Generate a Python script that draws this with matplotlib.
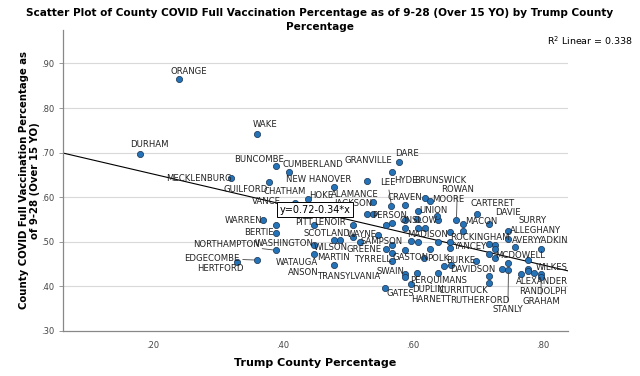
import matplotlib
matplotlib.use("Agg")
import matplotlib.pyplot as plt

# ---------------------------------------------------
# Data
# ---------------------------------------------------
county = ["ORANGE", "DURHAM", "WAKE", "MECKLENBURG", "BUNCOMBE", "CUMBERLAND",
          "GUILFORD", "NEW HANOVER", "GRANVILLE", "HYDE", "DARE", "HOKE",
          "CHATHAM", "VANCE", "ALAMANCE", "LEE", "CRAVEN", "BRUNSWICK", "MOORE",
          "UNION", "JACKSON", "PERSON", "", "", "ONSLOW", "", "", "", "LENOIR",
          "", "MADISON", "", "SAMPSON", "WAYNE", "SCOTLAND", "", "GREENE",
          "", "", "", "", "", "", "GASTON", "", "POLK", "", "TYRRELL", "SWAIN",
          "HARNETT", "PERQUIMANS", "", "", "DUPLIN", "GATES", "ROWAN", "MACON",
          "CARTERET", "DAVIE", "", "ROCKINGHAM", "YANCEY", "", "", "",
          "ALLEGHANY", "AVERY", "", "YADKIN", "", "MCDOWELL", "", "", "BURKE",
          "DAVIDSON", "", "STANLY", "ALEXANDER", "", "RANDOLPH", "", "WILKES",
          "GRAHAM", "CURRITUCK", "RUTHERFORD", "WARREN", "", "BERTIE", "PITT",
          "NORTHAMPTON", "WILSON", "MARTIN", "EDGECOMBE", "HERTFORD", "WATAUGA"]

trump_pct = [0.240, 0.180, 0.360, 0.320, 0.390, 0.409,
             0.379, 0.479, 0.529, 0.568, 0.579, 0.439,
             0.418, 0.402, 0.539, 0.567, 0.588, 0.619, 0.627,
             0.608, 0.529, 0.538, 0.568, 0.558, 0.588, 0.607, 0.639, 0.637, 0.508,
             0.588, 0.608, 0.619, 0.547, 0.508, 0.479, 0.488, 0.519,
             0.597, 0.608, 0.639, 0.657, 0.558, 0.568, 0.568, 0.588, 0.617, 0.627, 0.568, 0.588,
             0.588, 0.607, 0.638, 0.648, 0.597, 0.557, 0.667, 0.677,
             0.698, 0.717, 0.677, 0.657, 0.657, 0.717, 0.727, 0.727,
             0.747, 0.747, 0.757, 0.797, 0.717, 0.726, 0.747, 0.777, 0.697,
             0.658, 0.737, 0.747, 0.767, 0.777, 0.777, 0.787, 0.797,
             0.797, 0.717, 0.717, 0.369, 0.389, 0.389, 0.448,
             0.389, 0.448, 0.448, 0.360, 0.329, 0.479]

vacc_pct = [0.865, 0.698, 0.742, 0.642, 0.669, 0.656,
            0.634, 0.624, 0.637, 0.657, 0.680, 0.596,
            0.587, 0.579, 0.589, 0.581, 0.583, 0.598, 0.592,
            0.569, 0.563, 0.563, 0.543, 0.537, 0.548, 0.552, 0.550, 0.557, 0.537,
            0.530, 0.531, 0.531, 0.516, 0.510, 0.503, 0.504, 0.499,
            0.501, 0.499, 0.500, 0.522, 0.484, 0.492, 0.475, 0.481, 0.464, 0.484, 0.457, 0.427,
            0.420, 0.431, 0.431, 0.445, 0.405, 0.397, 0.550, 0.541,
            0.563, 0.541, 0.525, 0.500, 0.487, 0.494, 0.492, 0.484,
            0.524, 0.507, 0.489, 0.483, 0.472, 0.464, 0.453, 0.460, 0.457,
            0.447, 0.440, 0.437, 0.428, 0.440, 0.434, 0.431, 0.427,
            0.422, 0.423, 0.407, 0.548, 0.537, 0.519, 0.537,
            0.481, 0.492, 0.472, 0.459, 0.454, 0.447]

intercept = 0.72
slope = -0.34
r_squared = 0.338

y_ticks = [0.30, 0.40, 0.50, 0.60, 0.70, 0.80, 0.90]
x_ticks = [0.20, 0.40, 0.60, 0.80]

# label placement: offset in pixels from the county's own point
label_offsets = {
    "ORANGE": (9.5, 8), "DURHAM": (9.5, 9), "WAKE": (8.3, 9.3),
    "MECKLENBURG": (-32, -0.3), "BUNCOMBE": (-17, 6.7), "CUMBERLAND": (24, 7.5),
    "GUILFORD": (-24, -7), "NEW HANOVER": (-16, 6.7), "GRANVILLE": (2, 20),
    "HYDE": (14, -8.7), "DARE": (8, 8.4), "HOKE": (13.2, 3.8),
    "CHATHAM": (-9.5, 11.8), "VANCE": (-17.5, 5.3), "ALAMANCE": (-18.8, 7.7),
    "LEE": (-3.7, 23), "CRAVEN": (0, 7.5), "BRUNSWICK": (15, 17.3),
    "MOORE": (17.3, 1), "UNION": (15.2, 0.7), "JACKSON": (-13.7, 10),
    "PERSON": (17.3, -1.7), "ONSLOW": (13, 0), "LENOIR": (-22.8, 2.7),
    "MADISON": (9.2, -6.7), "SAMPSON": (3.4, -7.3), "WAYNE": (8.4, 2.7),
    "SCOTLAND": (-7.3, 6.7), "GREENE": (3.5, -7.3), "GASTON": (18.7, -5),
    "POLK": (14.7, -1), "TYRRELL": (-19.3, 1.7), "SWAIN": (-14.5, 3.3),
    "HARNETT": (26.5, -21.7), "PERQUIMANS": (21.3, -7.7), "DUPLIN": (16.5, -5.7),
    "GATES": (15, -5.7), "ROWAN": (0.8, 30), "MACON": (18.7, 2.3),
    "CARTERET": (16.3, 10), "DAVIE": (19, 10.7), "ROCKINGHAM": (30, 4.3),
    "YANCEY": (20, 1), "ALLEGHANY": (26.7, 1), "AVERY": (16.7, -1.4),
    "YADKIN": (10.5, 9.3), "MCDOWELL": (25, 2.3), "BURKE": (-15, 0.7),
    "DAVIDSON": (22.3, -4), "STANLY": (-0.6, -39.3), "ALEXANDER": (20.3, -8),
    "RANDOLPH": (15, -20.6), "WILKES": (10.7, 7.3), "GRAHAM": (0.3, -25),
    "CURRITUCK": (-25.3, -14), "RUTHERFORD": (-8.8, -17), "WARREN": (-19.7, 0),
    "BERTIE": (-17.2, 0.7), "PITT": (-10.3, 2.7), "NORTHAMPTON": (-49.7, 6),
    "WILSON": (16.2, -2.3), "MARTIN": (19, -3.3), "EDGECOMBE": (-44.7, 1.7),
    "HERTFORD": (-16.2, -6.6), "WATAUGA": (-37.7, 3.3),
}
# labels that sit next to another county's point
extra_labels = [("ANSON", "WATAUGA", -31, -7.3),
                ("TRANSYLVANIA", "WATAUGA", 14.3, -10.7),
                ("WASHINGTON", "NORTHAMPTON", 8.3, 6.7),
                ("SURRY", "ALLEGHANY", 24.2, 11)]
# labels joined to their point by a thin line
leader_labels = ["LEE", "ROWAN", "STANLY", "GRAHAM", "EDGECOMBE", "NORTHAMPTON"]

# ---------------------------------------------------
# Figure
# ---------------------------------------------------
plt.rcParams["font.family"] = "DejaVu Sans"
fig = plt.figure(figsize=(6.4, 3.76), dpi=100)
ax = fig.add_axes([0.0984, 0.1197, 0.789, 0.8005])

ax.set_xlim(0.0615, 0.8385)
ax.set_ylim(0.30, 0.975)

for t in y_ticks[1:]:
    ax.axhline(t, color="#d9d9d9", lw=0.8, zorder=0)

# fit line
xs = list(ax.get_xlim())
ax.plot(xs, [intercept + slope * v for v in xs], color="black", lw=0.8, zorder=2)

ax.scatter(trump_pct, vacc_pct, s=20, color="#2473b8", edgecolor="#18304f",
           linewidth=0.5, zorder=3)

pos = {n: (x, y) for n, x, y in zip(county, trump_pct, vacc_pct) if n}
lbl_kw = dict(textcoords="offset pixels", ha="center", va="center",
              fontsize=6.1, color="#222222", zorder=4)
for name, (dx, dy) in label_offsets.items():
    arrow = None
    if name in leader_labels:
        arrow = dict(arrowstyle="-", color="#444444", lw=0.6, shrinkA=0, shrinkB=2)
    ax.annotate(name, xy=pos[name], xytext=(dx, dy), arrowprops=arrow, **lbl_kw)
for name, anchor, dx, dy in extra_labels:
    ax.annotate(name, xy=pos[anchor], xytext=(dx, dy), **lbl_kw)

ax.text(0.499, 0.403, f"y={intercept:.2f}-{-slope:.2f}*x", transform=ax.transAxes,
        ha="center", va="center", fontsize=7, zorder=5,
        bbox=dict(boxstyle="square,pad=0.25", fc="white", ec="black", lw=0.7))

for side in ["top", "right"]:
    ax.spines[side].set_visible(False)
for side in ["left", "bottom"]:
    ax.spines[side].set_color("#888888")
    ax.spines[side].set_linewidth(0.9)

ax.set_yticks(y_ticks)
ax.set_yticklabels([f"{v:.2f}".lstrip("0") for v in y_ticks])
ax.set_xticks(x_ticks)
ax.set_xticklabels([f"{v:.2f}".lstrip("0") for v in x_ticks])
ax.tick_params(axis="y", length=3, width=0.6, color="#888888", labelsize=6,
               labelcolor="#444444", pad=3)
ax.tick_params(axis="x", length=0, labelsize=6, labelcolor="#444444", pad=7)

ax.set_xlabel("Trump County Percentage", fontsize=8, fontweight="bold", labelpad=6)
ax.set_ylabel("County COVID Full Vaccination Percentage as\nof 9-28 (Over 15 YO)",
              fontsize=7.3, fontweight="bold", labelpad=1, linespacing=1.15)

fig.suptitle("Scatter Plot of County COVID Full Vaccination Percentage as of 9-28 "
             "(Over 15 YO) by Trump County\nPercentage",
             x=0.5, y=0.978, va="top", fontsize=7.6, fontweight="bold",
             linespacing=1.5)
fig.text(0.99, 0.891, f"R$^2$ Linear = {r_squared}", ha="right", va="center",
         fontsize=6.8)

fig.savefig("out.png", dpi=100)
